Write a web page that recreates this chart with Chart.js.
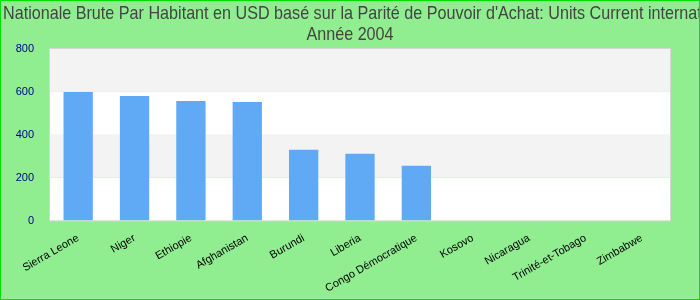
<!DOCTYPE html>
<html>
<head>
<meta charset="utf-8">
<script src="https://cdn.jsdelivr.net/npm/chart.js@4.4.0/dist/chart.umd.min.js"></script>
<style>
  html, body { margin: 0; padding: 0; }
  #wrap {
    width: 700px; height: 300px; box-sizing: border-box;
    border: 1px solid #00e000; background: #90ee90;
  }
</style>
</head>
<body>
<div id="wrap"><canvas id="myChart" width="698" height="298"></canvas></div>
<script>
var titre = "Nationale Brute Par Habitant en USD basé sur la Parité de Pouvoir d'Achat: Units Current international $";
var sousTitre = 'Année 2004';
var pays = ['Sierra Leone', 'Niger', 'Ethiopie', 'Afghanistan', 'Burundi', 'Liberia',
  'Congo Démocratique', 'Kosovo', 'Nicaragua', 'Trinité-et-Tobago', 'Zimbabwe'];
var valeurs = [600, 581, 558, 553, 330, 312, 256, null, null, null, null];
var graduations = [0, 200, 400, 600, 800];

// bandes alternees grises / blanches dans la zone de trace
const bandes = {
  id: 'bandes',
  beforeDatasetsDraw: function (chart) {
    var ctx = chart.ctx, a = chart.chartArea, y = chart.scales.y;
    ctx.save();
    for (var i = 0; i < graduations.length - 1; i++) {
      var y0 = y.getPixelForValue(graduations[i]);
      var y1 = y.getPixelForValue(graduations[i + 1]);
      ctx.fillStyle = (i % 2 == 0) ? '#ffffff' : '#f3f3f3';
      ctx.fillRect(a.left, y1, a.right - a.left, y0 - y1);
    }
    ctx.strokeStyle = '#d6d6d6';
    ctx.lineWidth = 1;
    ctx.strokeRect(a.left - 0.5, a.top - 0.5, a.right - a.left + 1, a.bottom - a.top + 1);
    ctx.restore();
  }
};

// titre dessine a la main : trop long, il deborde a droite
// police etroite simulee par une compression horizontale
const titrePlugin = {
  id: 'titrePlugin',
  afterDraw: function (chart) {
    var ctx = chart.ctx;
    var k = 0.85;
    ctx.save();
    ctx.fillStyle = '#444444';
    ctx.font = '19px "Liberation Sans"';
    ctx.textBaseline = 'alphabetic';
    ctx.textAlign = 'left';
    ctx.scale(k, 1);
    ctx.fillText(titre, 2 / k, 18);
    ctx.fillText(sousTitre, (chart.width / 2) / k - ctx.measureText(sousTitre).width / 2, 39);
    ctx.restore();
  }
};

const data = {
  labels: pays,
  datasets: [{
    label: 'RNB',
    backgroundColor: '#60a9f5',
    data: valeurs,
    barPercentage: 0.52,
    categoryPercentage: 1
  }]
};

const config = {
  type: 'bar',
  data: data,
  plugins: [bandes, titrePlugin],
  options: {
    responsive: false,
    animation: false,
    layout: { padding: { left: 0, right: 29, top: 48, bottom: 1 } },
    plugins: {
      legend: { display: false },
      tooltip: { enabled: false },
      title: { display: false }
    },
    scales: {
      x: {
        grid: { display: false },
        border: { display: false },
        ticks: {
          color: '#000000',
          font: { family: 'Liberation Sans', size: 11 },
          maxRotation: 30,
          minRotation: 30,
          autoSkip: false
        }
      },
      y: {
        min: 0,
        max: 800,
        grid: { display: false },
        border: { display: false },
        afterFit: function (s) { s.width = 49; },
        ticks: {
          stepSize: 200,
          color: '#00008b',
          font: { family: 'Liberation Sans', size: 11 },
          padding: 8
        }
      }
    }
  }
};

const myChart = new Chart(document.getElementById('myChart'), config);
</script>
</body>
</html>
